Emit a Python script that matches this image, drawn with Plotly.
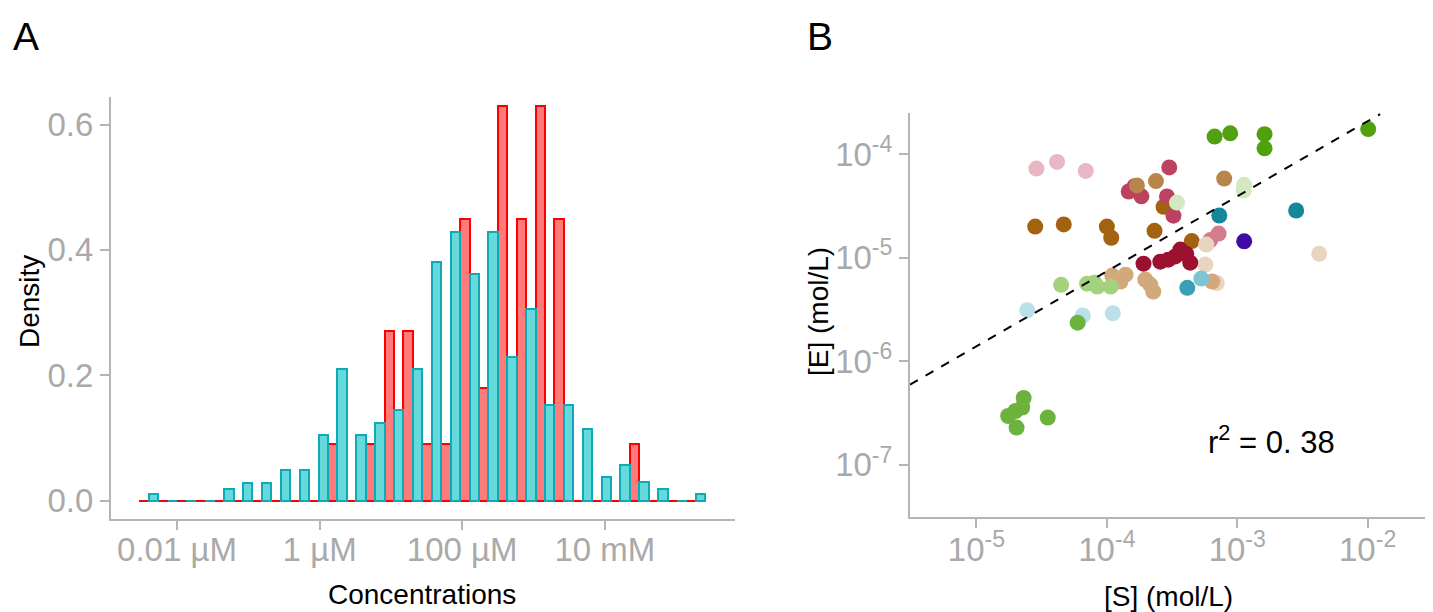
import numpy as np
import plotly.graph_objects as go

# ---------------- Panel A data: histogram densities (30 log10 bins) ----------------
bin_start_log10 = -8.53      # left edge of first bin, log10(mol/L)
bin_width_log10 = 0.2647     # bin width in decades
red_density = [0, 0, 0, 0, 0, 0, 0, 0, 0, 0,
               0.09, 0, 0.09, 0.27, 0.27, 0.09, 0.09, 0.45, 0.18, 0.63,
               0.45, 0.63, 0.45, 0, 0, 0, 0.09, 0, 0, 0]
cyan_density = [0.01, 0, 0, 0, 0.019, 0.028, 0.028, 0.048, 0.048, 0.105,
                0.21, 0.105, 0.124, 0.144, 0.21, 0.381, 0.428, 0.362, 0.428, 0.229,
                0.305, 0.153, 0.153, 0.114, 0.038, 0.057, 0.029, 0.019, 0, 0.01]
conc_tick_vals = [-8, -6, -4, -2]
conc_tick_text = ["0.01 µM", "1 µM", "100 µM", "10 mM"]
density_ticks = [0.0, 0.2, 0.4, 0.6]

bin_centers = bin_start_log10 + bin_width_log10 * (np.arange(len(red_density)) + 0.5)

# ---------------- Panel B data: [S] vs [E] (mol/L), grouped by colour ----------------
groups = [
    ("#e9b7c3", [2.88e-5, 4.15e-5, 6.89e-5], [7.26e-5, 8.43e-5, 6.90e-5]),
    ("#a3620f", [2.82e-5, 4.67e-5, 1.00e-4, 1.08e-4, 2.72e-4, 2.32e-4, 4.48e-4],
                [2.00e-5, 2.10e-5, 2.00e-5, 1.56e-5, 3.10e-5, 1.82e-5, 1.45e-5]),
    ("#bb4360", [3.01e-4, 1.47e-4, 1.63e-4, 1.84e-4, 2.89e-4, 3.24e-4],
                [7.46e-5, 4.36e-5, 4.90e-5, 3.92e-5, 3.91e-5, 2.55e-5]),
    ("#b8864a", [1.70e-4, 2.38e-4, 7.94e-4], [5.00e-5, 5.50e-5, 5.82e-5]),
    ("#d3e9c4", [3.45e-4, 1.13e-3, 1.12e-3], [3.41e-5, 5.06e-5, 4.46e-5]),
    ("#16879a", [7.28e-4, 2.83e-3], [2.56e-5, 2.86e-5]),
    ("#d67b8b", [6.21e-4, 7.19e-4], [1.48e-5, 1.71e-5]),
    ("#e9d5bf", [5.78e-4, 5.69e-4, 4.25e-3, 6.97e-4], [1.34e-5, 8.59e-6, 1.09e-5, 5.69e-6]),
    ("#d2a97a", [1.10e-4, 1.27e-4, 1.39e-4, 1.97e-4, 2.15e-4, 2.27e-4, 6.43e-4],
                [6.73e-6, 5.89e-6, 6.87e-6, 6.15e-6, 5.51e-6, 4.71e-6, 5.89e-6]),
    ("#9c1030", [1.91e-4, 2.57e-4, 2.96e-4, 3.35e-4, 3.66e-4, 4.06e-4, 4.36e-4],
                [8.77e-6, 9.17e-6, 9.59e-6, 1.03e-5, 1.20e-5, 1.09e-5, 8.97e-6]),
    ("#3d9fb6", [4.14e-4], [5.12e-6]),
    ("#7dc5d3", [5.30e-4], [6.29e-6]),
    ("#a3d27f", [4.46e-5, 7.05e-5, 8.02e-5, 8.45e-5, 1.07e-4],
                [5.47e-6, 5.62e-6, 5.75e-6, 5.27e-6, 5.27e-6]),
    ("#bae1e8", [2.45e-5, 6.53e-5, 1.11e-4], [3.11e-6, 2.77e-6, 2.91e-6]),
    ("#6cb33e", [5.97e-5, 2.30e-5, 2.24e-5, 1.99e-5, 1.75e-5, 2.03e-5, 3.52e-5],
                [2.36e-6, 4.42e-7, 3.57e-7, 3.31e-7, 2.96e-7, 2.29e-7, 2.86e-7]),
    ("#51a010", [6.70e-4, 8.83e-4, 1.62e-3, 1.62e-3, 1.01e-2],
                [1.48e-4, 1.59e-4, 1.56e-4, 1.14e-4, 1.75e-4]),
    ("#3e0ca2", [1.13e-3], [1.44e-5]),
]
fit_intercept_log10 = -2.2325
fit_slope = 0.7246
fit_S_range = [10 ** -5.51, 10 ** -1.904]
s_ticks = [1e-5, 1e-4, 1e-3, 1e-2]
e_ticks = [1e-7, 1e-6, 1e-5, 1e-4]
r2_text = "r<sup>2</sup> = 0. 38"

# page body adds an 8 px margin; size the figure so it fits the 1433x612 window
OFF = 8
W, H = 1433 - OFF, 612 - OFF
GRAY = "#a9a9a9"
AXC = "#b5b5b5"
FONT = "Liberation Sans, Arial, sans-serif"


def px_x(p):
    return (p - OFF) / W


def px_y(p):
    return 1 - (p - OFF) / H


fig = go.Figure()

fig.add_trace(go.Bar(x=bin_centers, y=red_density, xaxis="x", yaxis="y",
                     marker=dict(color="rgba(255,0,0,0.52)", line=dict(color="#ff0000", width=2)),
                     showlegend=False, hoverinfo="skip"))
fig.add_trace(go.Bar(x=bin_centers, y=cyan_density, xaxis="x", yaxis="y",
                     marker=dict(color="rgba(0,191,196,0.6)", line=dict(color="#0faab6", width=2)),
                     showlegend=False, hoverinfo="skip"))

for col, sx, ey in groups:
    fig.add_trace(go.Scatter(x=sx, y=ey, mode="markers", xaxis="x2", yaxis="y2",
                             marker=dict(size=16, color=col, line=dict(width=0)),
                             showlegend=False, hoverinfo="skip"))

fit_E = [10 ** (fit_intercept_log10 + fit_slope * np.log10(s)) for s in fit_S_range]
fig.add_trace(go.Scatter(x=fit_S_range, y=fit_E, mode="lines", xaxis="x2", yaxis="y2",
                         line=dict(color="black", width=2, dash="dash"),
                         showlegend=False, hoverinfo="skip"))

axis_common = dict(showline=True, linecolor=AXC, linewidth=2, ticks="outside",
                   ticklen=9, tickwidth=2, tickcolor=AXC, showgrid=False, zeroline=False,
                   tickfont=dict(family=FONT, size=33, color=GRAY))

fig.update_layout(
    width=W, height=H, margin=dict(l=0, r=0, t=0, b=0),
    paper_bgcolor="white", plot_bgcolor="white",
    barmode="group", bargap=0, bargroupgap=0,
    xaxis=dict(domain=[px_x(111), px_x(735)], range=[-8.926, -0.174],
               tickmode="array", tickvals=conc_tick_vals, ticktext=conc_tick_text,
               ticklabelstandoff=-9, anchor="y", **axis_common),
    yaxis=dict(domain=[px_y(519), px_y(97)], range=[-0.0295, 0.644],
               tickmode="array", tickvals=density_ticks, tickformat=".1f",
               anchor="x", **axis_common),
    xaxis2=dict(domain=[px_x(910), px_x(1425)], type="log", range=[-5.51, -1.56],
                tickmode="array", tickvals=s_ticks,
                ticktext=["10<sup>-5</sup>", "10<sup>-4</sup>", "10<sup>-3</sup>", "10<sup>-2</sup>"],
                ticklabelstandoff=-7, anchor="y2", **axis_common),
    yaxis2=dict(domain=[px_y(517), px_y(113)], type="log", range=[-7.504, -3.602],
                tickmode="array", tickvals=e_ticks,
                ticktext=["10<sup>-7</sup>", "10<sup>-6</sup>", "10<sup>-5</sup>", "10<sup>-4</sup>"],
                anchor="x2", **axis_common),
)

title_font = dict(family=FONT, size=28, color="black")
ann = [
    dict(text="A", x=px_x(11), y=px_y(36), xanchor="left", yanchor="middle",
         font=dict(family=FONT, size=39, color="black")),
    dict(text="B", x=px_x(805), y=px_y(36), xanchor="left", yanchor="middle",
         font=dict(family=FONT, size=39, color="black")),
    dict(text="Density", x=px_x(30), y=px_y(302), textangle=-90,
         xanchor="center", yanchor="middle", font=title_font),
    dict(text="Concentrations", x=px_x(422), y=px_y(594),
         xanchor="center", yanchor="middle", font=title_font),
    dict(text="[E] (mol/L)", x=px_x(818), y=px_y(312), textangle=-90,
         xanchor="center", yanchor="middle", font=title_font),
    dict(text="[S] (mol/L)", x=px_x(1168), y=px_y(596),
         xanchor="center", yanchor="middle", font=title_font),
    dict(text=r2_text, x=px_x(1271), y=px_y(440),
         xanchor="center", yanchor="middle", font=dict(family=FONT, size=31, color="black")),
]
for a in ann:
    a.update(xref="paper", yref="paper", showarrow=False)
fig.update_layout(annotations=ann)

fig.write_html("out.html")
